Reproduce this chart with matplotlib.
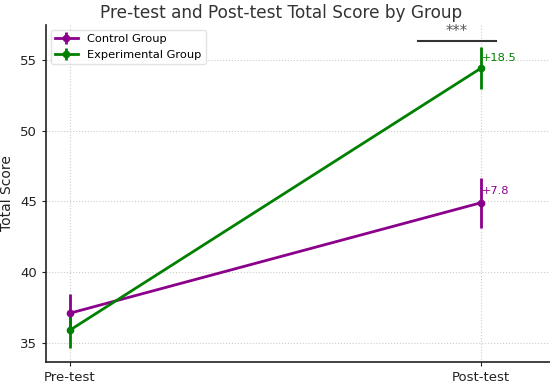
import numpy as np
import matplotlib.pyplot as plt

timepoints = ['Pre-test', 'Post-test']
control_means = [37.1, 44.9]
control_err = [1.35, 1.75]
exp_means = [35.9, 54.4]
exp_err = [1.27, 1.48]

fig = plt.figure(figsize=(5.5, 3.91), dpi=100)
ax = fig.add_axes([0.0836, 0.074, 0.9164, 0.862])

x = np.arange(len(timepoints))
purple = '#8b008b'
green = '#008000'

ax.errorbar(x, control_means, yerr=control_err, color=purple, marker='o',
            markersize=4.5, linewidth=2, elinewidth=2, capsize=0, label='Control Group')
ax.errorbar(x, exp_means, yerr=exp_err, color=green, marker='o',
            markersize=4.5, linewidth=2, elinewidth=2, capsize=0, label='Experimental Group')

# gain labels
ctrl_gain = control_means[1] - control_means[0]
exp_gain = exp_means[1] - exp_means[0]
ax.text(x[1] + 0.002, control_means[1] + 0.8, '+{:.1f}'.format(ctrl_gain),
        color=purple, fontsize=8.2, va='center', ha='left')
ax.text(x[1] + 0.002, exp_means[1] + 0.7, '+{:.1f}'.format(exp_gain),
        color=green, fontsize=8.2, va='center', ha='left')

# significance bracket
ax.plot([0.847, 1.036], [56.34, 56.34], color='#333333', linewidth=1.5)
ax.text(0.94, 56.45, '***', ha='center', va='bottom', fontsize=10.5, color='#555555')

ax.set_xticks(x)
ax.set_xticklabels(timepoints)
ax.set_xlim(-0.058, 1.168)
ax.set_ylim(33.65, 57.45)
ax.set_yticks([35, 40, 45, 50, 55])
ax.set_ylabel('Total Score', fontsize=10, color='#222222', labelpad=4)
ax.set_title('Pre-test and Post-test Total Score by Group', fontsize=12.2,
             color='#333333', pad=5, x=0.466)
ax.tick_params(labelsize=9.5, colors='#222222', length=3)
ax.grid(True, linestyle=':', color='#cccccc', linewidth=0.8)
ax.spines['top'].set_visible(False)
ax.spines['right'].set_visible(False)
ax.spines['left'].set_color('#222222')
ax.spines['bottom'].set_color('#222222')
ax.spines['left'].set_linewidth(1.2)
ax.spines['bottom'].set_linewidth(1.2)

ax.legend(loc='upper left', fontsize=8.2, frameon=True, edgecolor='#dddddd',
          borderaxespad=0.4, handlelength=2)

fig.savefig('out.png', dpi=100)
